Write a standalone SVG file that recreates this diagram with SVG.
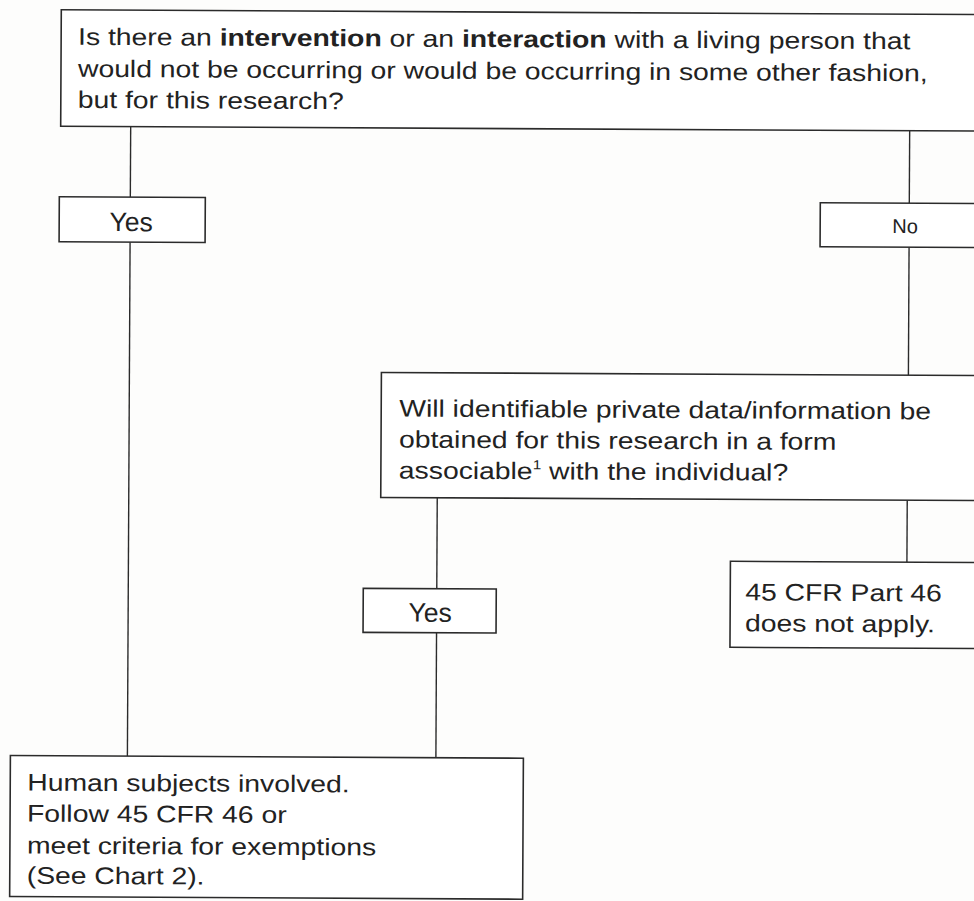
<svg xmlns="http://www.w3.org/2000/svg" width="974" height="901" viewBox="0 0 974 901">
<style>
.box{fill:#ffffff;stroke:#2b2b2b;stroke-width:1.6}
.ln{stroke:#2b2b2b;stroke-width:1.4;fill:none}
text{font-family:"Liberation Sans",Arial,sans-serif;font-size:24px;fill:#222222}
.b{font-weight:bold}
.c{text-anchor:middle}
.yes{font-size:26.5px}
.sm{font-size:20px}
.sup{font-size:13px}
</style>
<rect width="974" height="901" fill="#fdfdfc"/>
<g transform="rotate(0.3 487 450)">
<g id="connectors" class="ln">
 <line x1="129" y1="128.5" x2="129" y2="199"/>
 <line x1="129" y1="244" x2="129" y2="758"/>
 <line x1="908" y1="128.5" x2="908" y2="201"/>
 <line x1="908" y1="245" x2="908" y2="373"/>
 <line x1="437.5" y1="498" x2="437.5" y2="589"/>
 <line x1="437.5" y1="633" x2="437.5" y2="758"/>
 <line x1="907.5" y1="498" x2="907.5" y2="560"/>
</g>
<g id="q1">
 <rect class="box" x="59" y="12" width="940" height="116.5"/>
 <text transform="matrix(1.18,0,0,1,76,47)">Is there an <tspan class="b">intervention</tspan> or an <tspan class="b">interaction</tspan> with a living person that</text>
 <text transform="matrix(1.18,0,0,1,76,79)">would not be occurring or would be occurring in some other fashion,</text>
 <text transform="matrix(1.18,0,0,1,76,110)">but for this research?</text>
</g>
<g id="yes1">
 <rect class="box" x="58" y="199" width="146" height="45"/>
 <text class="c yes" x="130" y="233">Yes</text>
</g>
<g id="no1">
 <rect class="box" x="819" y="201" width="170" height="44"/>
 <text class="c sm" x="904" y="231">No</text>
</g>
<g id="q2">
 <rect class="box" x="381" y="373" width="610" height="125"/>
 <text transform="matrix(1.18,0,0,1,399,417)">Will identifiable private data/information be</text>
 <text transform="matrix(1.18,0,0,1,399,448)">obtained for this research in a form</text>
 <text transform="matrix(1.18,0,0,1,399,479)">associable<tspan class="sup" dy="-10">1</tspan><tspan dy="10"> with the individual?</tspan></text>
</g>
<g id="yes2">
 <rect class="box" x="364" y="589" width="133" height="44"/>
 <text class="c yes" x="431" y="622">Yes</text>
</g>
<g id="notapply">
 <rect class="box" x="731" y="560" width="260" height="86"/>
 <text transform="matrix(1.18,0,0,1,746,599)">45 CFR Part 46</text>
 <text transform="matrix(1.18,0,0,1,746,630)">does not apply.</text>
</g>
<g id="human">
 <rect class="box" x="12" y="758" width="513" height="141"/>
 <text transform="matrix(1.18,0,0,1,29,793)">Human subjects involved.</text>
 <text transform="matrix(1.18,0,0,1,29,824)">Follow 45 CFR 46 or</text>
 <text transform="matrix(1.18,0,0,1,29,856)">meet criteria for exemptions</text>
 <text transform="matrix(1.18,0,0,1,29,886)">(See Chart 2).</text>
</g>
</g>
</svg>
